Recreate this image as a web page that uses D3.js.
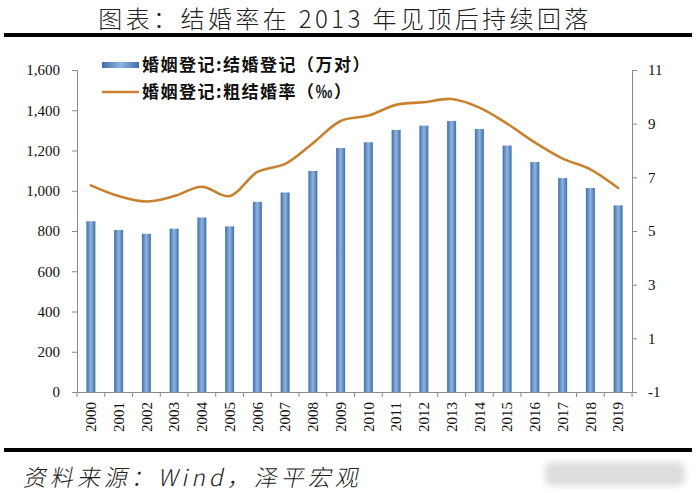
<!DOCTYPE html>
<html><head><meta charset="utf-8">
<script src="https://cdnjs.cloudflare.com/ajax/libs/d3/7.8.5/d3.min.js"></script>
<style>body{margin:0;background:#fff;}svg{display:block;}</style>
</head><body>
<svg id="c" width="698" height="493"></svg>
<script>
const years = ["2000","2001","2002","2003","2004","2005","2006","2007","2008","2009","2010","2011","2012","2013","2014","2015","2016","2017","2018","2019"];
const marriages = [848.5,805,786,811.4,867.2,823.1,945,991.4,1098.3,1212.4,1241,1302.4,1323.6,1346.9,1306.7,1224.7,1142.8,1063.1,1013.9,927.3];
const rates = [6.7,6.3,6.1,6.3,6.65,6.3,7.2,7.5,8.27,9.1,9.3,9.7,9.8,9.92,9.6,9.0,8.3,7.7,7.3,6.6];
const leftTicks = [0,200,400,600,800,1000,1200,1400,1600];
const rightTicks = [-1,1,3,5,7,9,11];
const titleText = "图表：结婚率在 2013 年见顶后持续回落";
const sourceText = "资料来源：Wind，泽平宏观";
const legendBar = "婚姻登记:结婚登记（万对）";
const legendLine = "婚姻登记:粗结婚率（‰）";

const svg = d3.select("#c");
const L = 77, R = 632, T = 70, B = 392;
const serif = "'Liberation Serif','DejaVu Serif',serif";
const cjk = "'Noto Sans CJK SC','Noto Sans CJK JP',sans-serif";

const xb = d3.scaleBand().domain(years).range([L, R]);
const yL = d3.scaleLinear().domain([0,1600]).range([B,T]);
const yR = d3.scaleLinear().domain([-1,11]).range([B,T]);

// title
svg.append("text").attr("x",345).attr("y",28).attr("text-anchor","middle")
  .attr("font-family",cjk).attr("font-weight",300).attr("font-size",24).attr("letter-spacing",3.4)
  .attr("fill","#222").text(titleText);
svg.append("rect").attr("x",4).attr("y",33).attr("width",688).attr("height",4).attr("fill","#000");
svg.append("rect").attr("x",4).attr("y",448).attr("width",688).attr("height",4).attr("fill","#000");
svg.append("text").attr("x",23).attr("y",486)
  .attr("font-family",cjk).attr("font-weight",300).attr("font-size",23).attr("letter-spacing",4).attr("fill","#222")
  .attr("transform","skewX(-12)").attr("dx",103).text(sourceText);

// watermark blur
const defs = svg.append("defs");
defs.append("filter").attr("id","bl").append("feGaussianBlur").attr("stdDeviation",3);
svg.append("rect").attr("x",545).attr("y",462).attr("width",140).attr("height",24).attr("rx",8)
  .attr("fill","#ddd").attr("filter","url(#bl)");

// gradient for bars
const g = defs.append("linearGradient").attr("id","bg").attr("x1","0").attr("x2","1").attr("y1","0").attr("y2","0");
g.append("stop").attr("offset","0").attr("stop-color","#3f6fa8");
g.append("stop").attr("offset","0.5").attr("stop-color","#8fb4e0");
g.append("stop").attr("offset","1").attr("stop-color","#3f6fa8");

// bars
svg.append("g").selectAll("rect").data(years).join("rect")
  .attr("x",d=>xb(d)+xb.bandwidth()/2-4.5).attr("width",9)
  .attr("y",(d,i)=>yL(marriages[i])).attr("height",(d,i)=>B-yL(marriages[i]))
  .attr("fill","url(#bg)");

// axes
const axCol = "#8a8a8a";
const gl = svg.append("g").attr("transform",`translate(${L},0)`)
  .call(d3.axisLeft(yL).tickValues(leftTicks).tickSize(5).tickPadding(12).tickFormat(d3.format(",")));
const gr = svg.append("g").attr("transform",`translate(${R},0)`)
  .call(d3.axisRight(yR).tickValues(rightTicks).tickSize(5).tickPadding(11).tickFormat(d=>String(d)));
const gx = svg.append("g").attr("transform",`translate(0,${B})`)
  .call(d3.axisBottom(xb).tickSize(0).tickPadding(8));
[gl,gr,gx].forEach(a=>{
  a.selectAll("path.domain").attr("stroke",axCol);
  a.selectAll(".tick line").attr("stroke",axCol);
  a.selectAll("text").attr("font-family",serif).attr("font-size",15).attr("fill","#111");
});
gx.selectAll(".tick text").attr("transform","rotate(-90)").attr("text-anchor","end")
  .attr("x",-10).attr("y",0).attr("dy","0.35em");
// x ticks at band boundaries
svg.append("g").selectAll("line").data(d3.range(years.length+1)).join("line")
  .attr("x1",i=>L+i*xb.step()).attr("x2",i=>L+i*xb.step()).attr("y1",B).attr("y2",B+5)
  .attr("stroke",axCol);

// line
const line = d3.line().x((d,i)=>xb(years[i])+xb.bandwidth()/2).y(d=>yR(d)).curve(d3.curveCatmullRom.alpha(0.5));
svg.append("path").datum(rates).attr("d",line).attr("fill","none")
  .attr("stroke","#c8812f").attr("stroke-width",2.6).attr("stroke-linecap","round");

// legend
svg.append("rect").attr("x",102).attr("y",62).attr("width",37).attr("height",6).attr("fill","url(#bg)");
svg.append("line").attr("x1",102).attr("x2",139).attr("y1",92).attr("y2",92).attr("stroke","#c8812f").attr("stroke-width",2.5);
svg.append("text").attr("x",142).attr("y",71).attr("font-family",cjk).attr("font-weight",700).attr("font-size",17).attr("letter-spacing",1.5).attr("fill","#111").text(legendBar);
svg.append("text").attr("x",142).attr("y",98).attr("font-family",cjk).attr("font-weight",700).attr("font-size",17).attr("letter-spacing",1.5).attr("fill","#111").text(legendLine);
</script>
</body></html>
